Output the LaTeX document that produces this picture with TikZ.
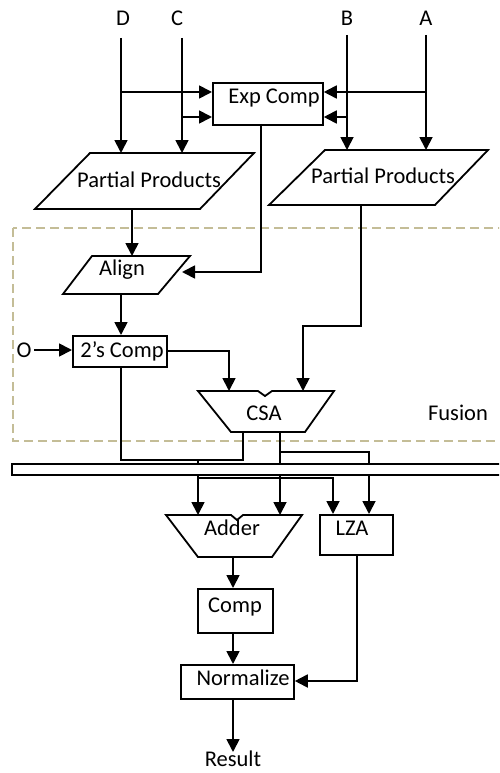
\documentclass[tikz,border=0pt]{standalone}
\usepackage{fontspec}
\setmainfont{Carlito}
\usetikzlibrary{arrows.meta}
\definecolor{fusc}{RGB}{196,189,151}
\begin{document}
\begin{tikzpicture}[x=1pt,y=-1pt,
  ln/.style={line width=1.8pt},
  arr/.style={ln,-{Triangle[length=13pt,width=13pt]}},
  box/.style={draw,line width=1.8pt,inner sep=0pt,anchor=north west},
  lbl/.style={anchor=base,inner sep=0pt,font=\fontsize{22.5}{25}\selectfont},
  fus/.style={draw=fusc,line width=1.8pt,dash pattern=on 9pt off 5pt}]
\useasboundingbox (0,0) rectangle (499,773);
\clip (0,0) rectangle (499,773);

% Fusion region
\draw[fus] (13,228) rectangle (530,441);
\node[lbl] (fusion) at (458,420) {Fusion};

% inputs
\node[lbl] (Dl) at (123,26) {D};
\node[lbl] (Cl) at (177,26) {C};
\node[lbl] (Bl) at (347,26) {B};
\node[lbl] (Al) at (426,26) {A};
\node[lbl] (Ol) at (24,357) {O};

% blocks
\node[box,minimum width=110pt,minimum height=42pt] (exp) at (212,82) {};
\node[lbl] (expt) at (274,104) {Exp Comp};

\draw[ln] (90,153) -- (254,153) -- (200,209) -- (35,209) -- cycle;
\node[lbl] (pp1) at (149,187) {Partial Products};
\draw[ln] (325,150) -- (488,150) -- (435,205) -- (269,205) -- cycle;
\node[lbl] (pp2) at (383,183) {Partial Products};

\draw[ln] (92,256) -- (190,256) -- (158,294) -- (63,294) -- cycle;
\node[lbl] (align) at (122,275) {Align};

\node[box,minimum width=94pt,minimum height=31pt] (twos) at (72,335) {};
\node[lbl] (twost) at (122,357) {2’s Comp};

\draw[ln] (198,391) -- (258,391) -- (265,396) -- (272,391) -- (334,391) -- (305,432) -- (231,432) -- cycle;
\node[lbl] (csa) at (264,420) {CSA};

\draw[ln] (12,464) rectangle (530,475);

\draw[ln] (166,515) -- (231,515) -- (237,520) -- (243,515) -- (302,515) -- (272,557) -- (198,557) -- cycle;
\node[lbl] (adder) at (232,535) {Adder};

\node[box,minimum width=73pt,minimum height=40pt] (lza) at (319,514) {};
\node[lbl] (lzat) at (352,535) {LZA};

\node[box,minimum width=75pt,minimum height=44pt] (comp) at (197,588) {};
\node[lbl] (compt) at (235,612) {Comp};

\node[box,minimum width=113pt,minimum height=34pt] (norm) at (180,664) {};
\node[lbl] (normt) at (243,685) {Normalize};

\node[lbl] (result) at (233,766) {Result};

% connectors
\draw[arr] (121,38) -- (121,153);
\draw[arr] (182,38) -- (182,153);
\draw[arr] (347,35) -- (347,150);
\draw[arr] (426,35) -- (426,150);
\draw[arr] (121,92) -- (121,92 -| exp.west);
\draw[arr] (182,117) -- (182,117 -| exp.west);
\draw[arr] (426,92) -- (426,92 -| exp.east);
\draw[arr] (347,117) -- (347,117 -| exp.east);

\draw[arr] (132,209) -- (132,256);
\draw[arr] (261,124) -- (261,272) -- (182,272);
\draw[arr] (121,294) -- (121,294 |- twos.north);
\draw[arr] (34,350) -- (34,350 -| twos.west);
\draw[arr] (166,351) -- (229,351) -- (229,391);
\draw[arr] (361,205) -- (361,326) -- (303,326) -- (303,391);

\draw[ln] (121,366) -- (121,460) -- (243,460) -- (243,432);
\draw[ln] (198,460) -- (198,464);
\draw[ln] (280,432) -- (280,464);
\draw[ln] (280,452) -- (369,452) -- (369,464);

\draw[arr] (198,475) -- (198,515);
\draw[arr] (198,478) -- (333,478) -- (333,478 |- lza.north);
\draw[arr] (280,475) -- (280,515);
\draw[arr] (369,475) -- (369,475 |- lza.north);

\draw[arr] (233,557) -- (233,557 |- comp.north);
\draw[arr] (233,632) -- (233,632 |- norm.north);
\draw[arr] (357,554) -- (357,681) -- (357,681 -| norm.east);
\draw[arr] (233,698) -- (233,752);
\end{tikzpicture}
\end{document}
